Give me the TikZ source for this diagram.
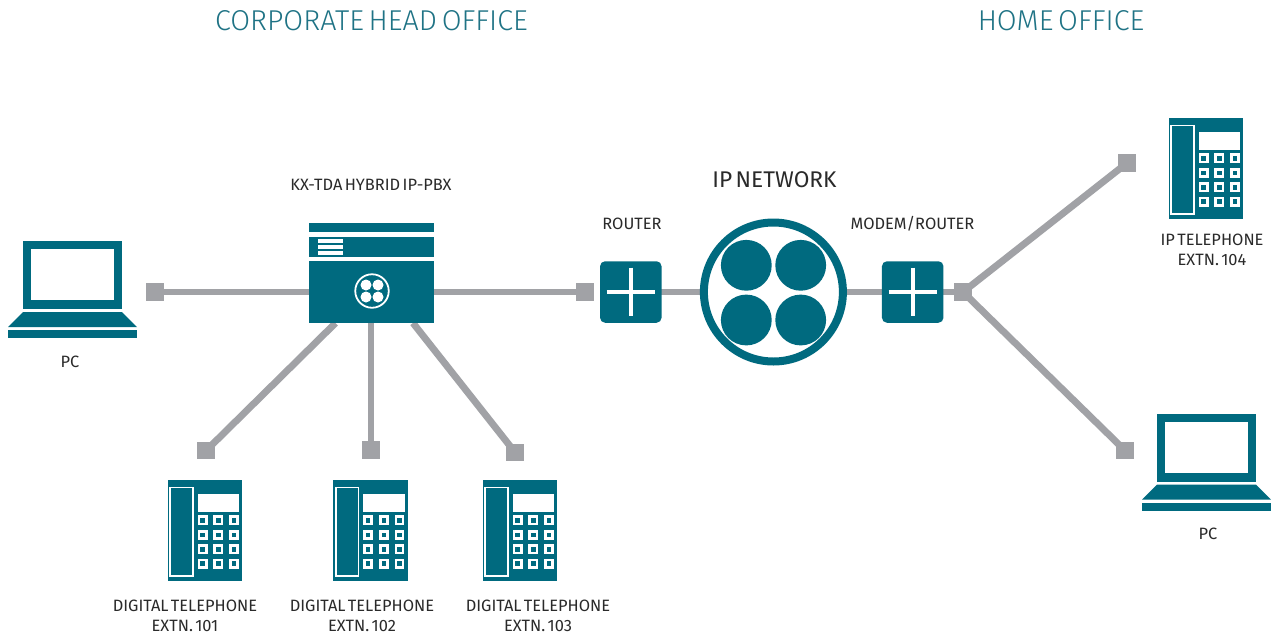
\documentclass[tikz,border=0pt]{standalone}
\usepackage{fontspec}
\setmainfont{Fira Sans}
\newfontfamily\lightfont[WordSpace=0.6]{Fira Sans Light}
\newfontfamily\bookfont[WordSpace=0.55]{Fira Sans}
\usetikzlibrary{backgrounds}
\definecolor{teal}{HTML}{006A7F}
\definecolor{wire}{HTML}{A1A2A6}
\definecolor{head}{HTML}{1F7385}
\definecolor{ink}{HTML}{2A2A2A}
\tikzset{
  x=1pt,y=-1pt,
  wireline/.style={draw=wire,line width=6.9pt},
  port/.style={fill=wire,minimum size=17.5pt,inner sep=0pt,outer sep=0pt,shape=rectangle},
  small/.style={text=ink,font=\bookfont\fontsize{16.4}{19.6}\selectfont,align=center,inner sep=0pt},
  header/.style={text=head,font=\lightfont\fontsize{28.7}{32}\selectfont,inner sep=0pt},
  mid/.style={text=ink,font=\bookfont\fontsize{22.7}{26}\selectfont,inner sep=0pt},
  routerbox/.style={fill=teal,rounded corners=5pt,minimum size=61.5pt,inner sep=0pt,outer sep=0pt,shape=rectangle},
  plusline/.style={draw=white,line width=4.4pt},
}
\newcommand{\laptopicon}[2]{%
  \begin{scope}[shift={(#1,#2)}]
    \fill[teal] (23,241) rectangle (122,309);
    \fill[white] (31,249) rectangle (114,300);
    \fill[teal] (23,312) -- (122,312) -- (137,327) -- (8,327) -- cycle;
    \fill[teal] (8,330) rectangle (137,338);
  \end{scope}}
\newcommand{\phoneicon}[2]{%
  \begin{scope}[shift={(#1,#2)}]
    \fill[teal] (167.5,480) rectangle (242,581);
    \draw[white,line width=1.8pt] (170.3,487.5) rectangle (192.9,576.2);
    \fill[white] (197.7,493.7) rectangle (239.3,511.7);
    \foreach \kx in {202.7,218.3,234}
      \foreach \ky in {520.3,535,549.3,563.7}
        \draw[white,line width=2.7pt] (\kx-3.6,\ky-3.6) rectangle (\kx+3.6,\ky+3.6);
  \end{scope}}
\begin{document}
\begin{tikzpicture}
\useasboundingbox (0,0) rectangle (1271,635);

% headers
\node[header] (hq) at (371.5,21) {CORPORATE HEAD OFFICE};
\node[header] (home) at (1061,21) {HOME OFFICE};

% PBX
\fill[teal] (309,223) rectangle (434,232);
\fill[teal] (309,236.7) rectangle (434,256.7);
\fill[white] (318,239.3) rectangle (343,243.2);
\fill[white] (318,245) rectangle (343,249);
\fill[white] (318,250.8) rectangle (343,254.7);
\node[fill=teal,minimum width=125pt,minimum height=62pt,inner sep=0pt,outer sep=0pt] (pbx) at (371.5,292) {};
\node[circle,draw=white,fill=teal,line width=1.8pt,minimum size=33.5pt,inner sep=0pt] (pbxlogo) at (372,291) {};
\foreach \dx in {-6,6} \foreach \dy in {-6,6}
  \fill[white] (372+\dx,291+\dy) circle (5.5);

% routers and network
\node[routerbox] (router) at (630.8,292) {};
\draw[plusline] (606.7,292) -- (655,292);
\draw[plusline] (630.8,267.7) -- (630.8,316);
\node[routerbox] (modem) at (912.7,292) {};
\draw[plusline] (888.6,292) -- (936.9,292);
\draw[plusline] (912.7,267.7) -- (912.7,316);
\node[circle,draw=teal,fill=white,line width=8pt,minimum size=139pt,inner sep=0pt,outer sep=0pt] (net) at (773.4,292) {};
\foreach \cx in {746.3,800.7} \foreach \cy in {265.3,320}
  \fill[teal] (\cx,\cy) circle (25.4);

% ports
\node[port] (pL) at (155.2,292) {};
\node[port] (pR) at (585,292) {};
\node[port] (pM) at (963,292) {};
\node[port] (pT) at (1127,163) {};
\node[port] (pB) at (1125,450.5) {};
\node[port] (p1) at (206,450.7) {};
\node[port] (p2) at (371,450) {};
\node[port] (p3) at (515,452.3) {};
\coordinate (t1) at (335.5,323);
\coordinate (t2) at (371,323);
\coordinate (t3) at (413,323);

% connectors
\begin{scope}[on background layer]
  \fill[white] (0,0) rectangle (1271,635);
  \draw[wireline] (pL.center) -- (pbx.center);
  \draw[wireline] (pbx.center) -- (pR.center);
  \draw[wireline] (router.center) -- (net.center);
  \draw[wireline] (net.center) -- (modem.center);
  \draw[wireline] (modem.center) -- (pM.center);
  \draw[wireline] (pM.center) -- (pT.center);
  \draw[wireline] (pM.center) -- (pB.center);
  \draw[wireline] (t1) -- (p1.center);
  \draw[wireline] (t2) -- (p2.center);
  \draw[wireline] (t3) -- (p3.center);
\end{scope}

% icons
\laptopicon{0}{0}
\laptopicon{1134}{172.7}
\phoneicon{0}{0}
\phoneicon{165.5}{0}
\phoneicon{315}{0}
\phoneicon{1001}{-362}

% labels
\node[small] (lpc1) at (70,361.5) {PC};
\node[small] (lpc2) at (1208,533.5) {PC};
\node[small] (lpbx) at (371,185) {KX-TDA HYBRID IP-PBX};
\node[small] (lr) at (632,224) {ROUTER};
\node[small] (lm) at (912.5,224) {MODEM/ROUTER};
\node[mid] (lnet) at (774.5,180) {IP NETWORK};
\node[small] (lip) at (1212,250) {IP TELEPHONE\\EXTN. 104};
\node[small] (l1) at (185,616) {DIGITAL TELEPHONE\\EXTN. 101};
\node[small] (l2) at (362,616) {DIGITAL TELEPHONE\\EXTN. 102};
\node[small] (l3) at (538,616) {DIGITAL TELEPHONE\\EXTN. 103};
\end{tikzpicture}
\end{document}
